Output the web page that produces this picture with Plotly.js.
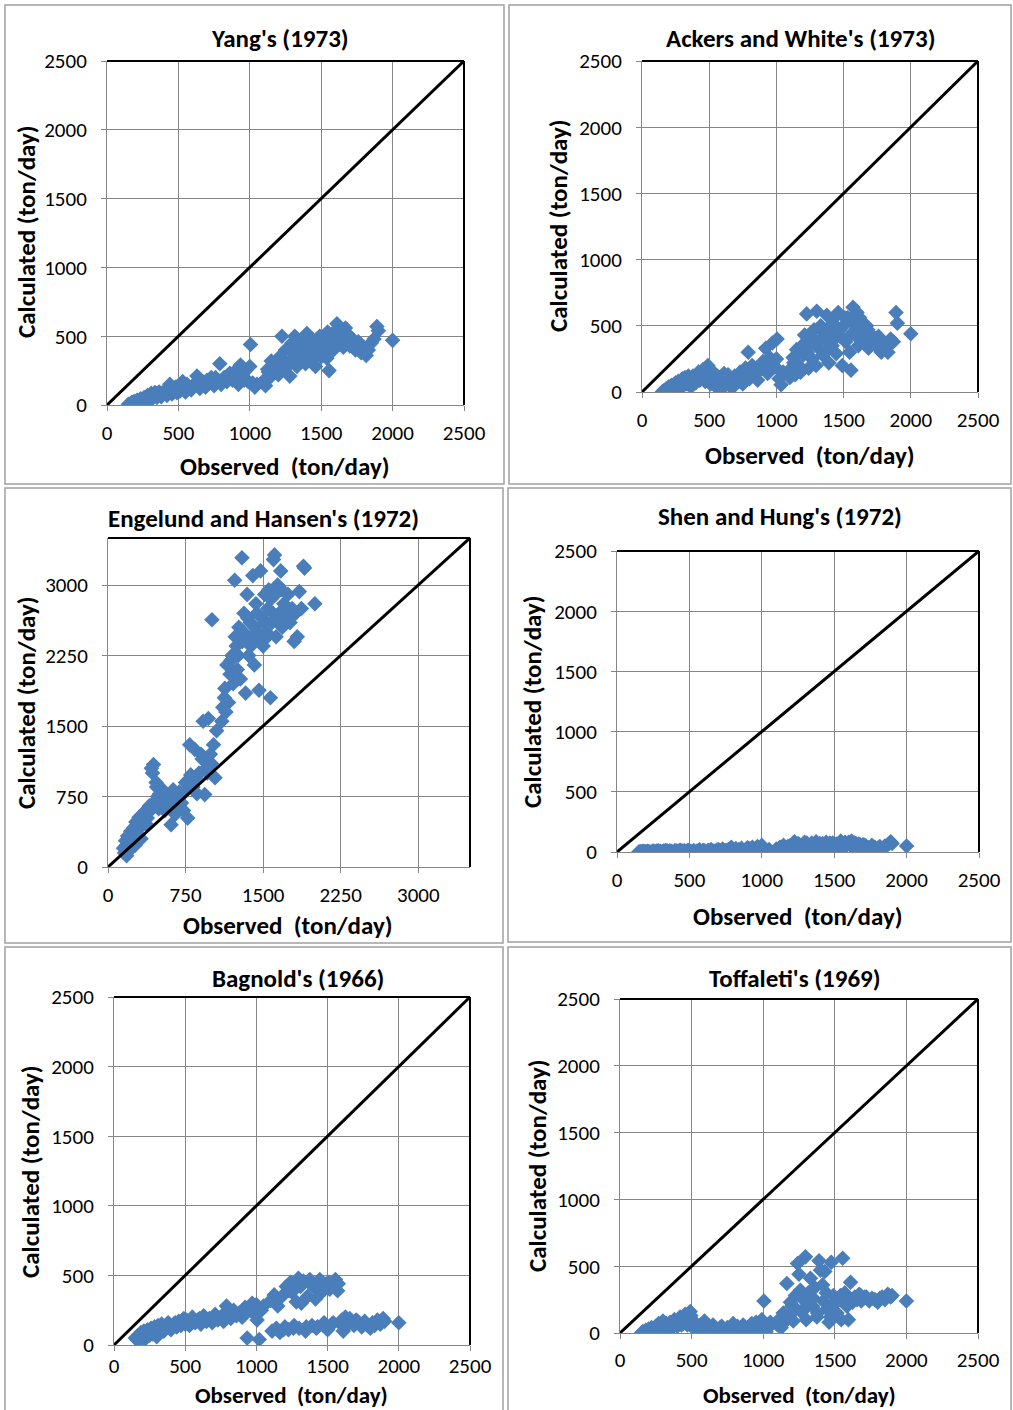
<!DOCTYPE html>
<html>
<head>
<meta charset="utf-8">
<script src="https://cdn.plot.ly/plotly-3.0.1.min.js"></script>
<style>
html,body{margin:0;padding:0;background:#fff;}
#chart{width:1013px;height:1410px;}
</style>
</head>
<body>
<div id="chart"></div>
<script>
// Observed sediment load (ton/day), shared by all six formulas
const observed = [
  150,160,170,180,190,200,210,220,235,250,260,270,285,300,310,320,335,350,365,380,400,420,440,455,470,490,500,510,
  530,550,570,590,610,630,650,670,690,710,730,750,770,790,800,820,840,860,880,900,920,935,950,970,990,1000,1005,1020,1035,1050,
  1100,1110,1125,1140,1150,1165,1180,1200,1210,1225,1240,1250,1265,1280,1295,1300,1315,1330,1345,1360,1375,1390,1400,1415,1430,1445,1460,1475,1490,1500,1515,1530,1545,1555,1570,1585,1600,1610,1625,1640,1655,1670,1685,1700,
  1720,1740,1760,1780,1800,1815,1830,1850,1870,1890,1900,2000,
  175,195,215,245,275,295,325,345,375,410,430,465,480,495,
  560,600,640,700,760,850,910,960,
  1130,1190,1230,1260,1310,1350,1380,1420,1440,1470,1510,1540,1575,1595,1620,1650,1680,1710
];

const yangCalc = [
  5,0,15,5,25,10,35,15,45,25,55,30,70,40,85,50,90,55,95,60,100,70,150,80,120,90,140,100,
  170,95,130,110,150,210,120,170,130,160,200,140,180,300,150,200,170,230,180,210,150,290,200,250,170,280,440,160,130,150,
  180,140,260,200,320,230,280,220,350,500,260,400,300,210,450,340,500,280,420,360,480,300,520,390,330,460,280,420,500,350,440,380,530,250,460,400,540,590,440,500,420,560,470,430,
  480,400,460,380,420,360,400,450,480,570,540,470,
  20,8,30,40,55,60,70,80,85,90,110,100,130,110,
  150,130,160,180,200,220,260,180,
  240,300,330,280,380,320,420,450,380,480,470,340,420,500,560,480,520,450
];

const ackersCalc = [
  0,10,5,25,10,40,15,50,20,70,30,80,40,100,50,110,60,90,40,120,70,150,100,170,80,200,120,60,
  150,40,110,20,140,60,100,30,120,80,150,60,180,300,100,200,130,90,170,230,330,140,260,370,190,250,400,100,55,150,
  110,180,260,130,320,200,150,280,430,590,180,360,250,470,200,610,330,500,280,400,580,220,470,350,560,290,600,420,200,500,380,560,300,165,640,430,600,350,520,460,380,500,330,440,
  400,350,420,300,370,330,300,400,380,600,520,440,
  15,30,20,45,60,55,80,120,100,130,90,160,180,140,
  120,90,130,100,120,160,200,230,
  220,350,300,420,380,450,320,520,410,470,560,420,520,480,560,420,470,380
];

const engelundCalc = [
  200,150,280,120,330,250,180,380,300,420,230,480,350,530,420,300,560,470,600,520,650,1050,1090,700,850,620,780,700,
  820,600,700,750,450,820,560,700,800,680,600,900,520,1300,980,850,1250,780,1000,1200,1550,770,1050,1580,1200,1100,2630,1300,950,1450,
  1550,1700,1800,1650,2150,1750,2050,2250,1950,3050,2350,2100,2550,2000,3290,2400,2700,1850,2900,2250,2600,2450,3100,2150,2800,2500,1880,3150,2650,2350,2900,2500,2750,2950,1800,2600,3270,3320,2450,3000,2700,3150,2550,2800,
  2650,2900,2600,2750,2400,2700,2450,2930,2750,3200,3180,2800,
  230,180,320,270,400,320,480,550,450,600,1000,900,750,680,
  750,680,620,750,820,950,1150,1000,
  1900,2200,2450,2250,2500,2650,2350,2550,2700,2400,2600,2450,2850,2700,2900,2600,2950,2700
];

const shenCalc = [
  0,3,0,5,2,0,6,3,0,8,4,2,10,5,0,8,12,4,9,2,12,6,15,8,3,14,10,5,
  12,6,18,10,4,15,20,8,16,12,25,10,20,40,15,28,18,30,12,35,22,40,15,45,25,55,30,10,5,20,
  25,15,40,20,55,30,45,25,60,85,40,70,30,55,80,45,65,35,75,50,85,40,70,55,30,80,60,45,75,35,65,50,90,25,70,55,80,60,45,75,55,65,40,60,
  50,35,55,40,30,45,25,50,60,85,70,50,
  4,2,0,5,7,3,6,10,5,8,12,10,6,12,
  10,14,8,20,15,20,30,25,
  35,50,45,60,75,60,55,70,65,75,55,70,80,70,90,70,60,55
];

const bagnoldCalc = [
  50,40,70,30,90,60,100,45,110,70,120,80,130,60,140,90,150,100,120,160,110,150,130,170,140,190,150,180,
  140,200,160,180,150,210,170,190,160,220,180,200,170,280,230,190,250,210,230,200,270,50,260,300,220,290,180,40,250,280,
  320,100,360,120,280,90,350,130,420,110,450,380,140,310,480,120,300,460,100,350,470,140,420,330,130,470,380,160,440,110,400,150,430,470,390,160,180,100,200,150,190,170,140,180,
  160,130,170,140,120,160,140,180,150,190,170,160,
  60,75,80,90,100,110,115,130,140,135,160,155,170,165,
  180,190,180,200,210,230,240,250,
  330,110,390,120,420,130,440,120,420,140,450,160,440,150,170,180,160,170
];

const toffaletiCalc = [
  0,10,5,20,0,30,10,40,15,50,20,70,30,90,40,60,20,80,40,100,50,120,70,140,60,160,100,40,
  70,20,50,90,30,10,60,30,20,50,10,40,30,70,20,50,30,60,20,40,70,30,80,50,100,60,240,10,40,80,
  60,100,40,150,80,370,120,200,90,280,520,440,160,250,570,100,300,410,200,340,120,540,470,360,460,180,80,530,280,220,150,250,100,560,300,200,260,380,230,270,250,290,240,260,
  270,240,260,250,230,260,270,250,290,270,280,240,
  10,15,25,30,40,50,70,50,70,90,60,110,90,130,
  60,40,30,40,20,40,60,40,
  90,230,180,320,200,260,150,240,300,120,230,280,250,100,240,260,280,270
];

const panelTitles = ["Yang's (1973)", "Ackers and White's (1973)", "Engelund and Hansen's (1972)",
                     "Shen and Hung's (1972)", "Bagnold's (1966)", "Toffaleti's (1969)"];
const calcSeries = [yangCalc, ackersCalc, engelundCalc, shenCalc, bagnoldCalc, toffaletiCalc];
const axisMax = [2500, 2500, 3500, 2500, 2500, 2500];
const tickValues = [
  [0,500,1000,1500,2000,2500],
  [0,500,1000,1500,2000,2500],
  [0,750,1500,2250,3000],
  [0,500,1000,1500,2000,2500],
  [0,500,1000,1500,2000,2500],
  [0,500,1000,1500,2000,2500]
];
const xTitle = "Observed  (ton/day)";
const yTitle = "Calculated (ton/day)";

// ---- layout geometry (pixels) ----
const W = 1013, H = 1410;
const plotBoxes = [ // [left, right, top, bottom]
  [107, 464, 61, 405],
  [642, 978, 61, 392],
  [108, 470, 538, 867],
  [617, 979, 551, 852],
  [114, 470, 997, 1345],
  [620, 978, 999, 1333]
];
const frames = [ // [left, right, top, bottom]
  [5, 504, 5, 484],
  [509, 1011, 5, 484],
  [5, 503, 488, 943],
  [508, 1011, 488, 942],
  [5, 503, 947, 1415],
  [508, 1011, 947, 1415]
];
const titlePos = [[280,38],[800,38],[263,518],[780,516],[298,978],[795,978]];
const xTitlePos = [[285,467],[810,455],[288,926],[798,916],[291,1396],[799,1395]];
const yTitlePos = [[26,232],[558,226],[26,703],[533,702],[30,1172],[537,1166]];
const xTickStandoff = [4, 4, 4, 4, -3, 3];

const FONT = 'Carlito, Lato, "Open Sans", sans-serif';
const px = v => v / W;
const py = v => 1 - v / H;

const data = [];
const layout = {
  width: W, height: H,
  margin: {l:0, r:0, t:0, b:0},
  paper_bgcolor: '#ffffff', plot_bgcolor: '#ffffff',
  showlegend: false,
  font: {family: FONT, color: '#000'},
  shapes: [], annotations: []
};

for (let i = 0; i < 6; i++) {
  const n = i + 1;
  const xa = n === 1 ? 'x' : 'x' + n;
  const ya = n === 1 ? 'y' : 'y' + n;
  const b = plotBoxes[i];
  const axCommon = {
    range: [0, axisMax[i]], tickvals: tickValues[i], ticktext: tickValues[i].map(String),
    showgrid: true, gridcolor: '#868686', gridwidth: 1,
    showline: true, linecolor: '#868686', linewidth: 1,
    ticks: 'outside', ticklen: 5, tickcolor: '#868686', tickwidth: 1,
    zeroline: false, fixedrange: true,
    tickfont: {family: FONT, size: 21, color: '#000'}
  };
  layout[n === 1 ? 'xaxis' : 'xaxis' + n] = Object.assign({}, axCommon, {
    domain: [px(b[0]), px(b[1])], anchor: ya, ticklabelstandoff: xTickStandoff[i]
  });
  layout[n === 1 ? 'yaxis' : 'yaxis' + n] = Object.assign({}, axCommon, {
    domain: [py(b[3]), py(b[2])], anchor: xa, ticklabelstandoff: 10
  });

  data.push({
    type: 'scatter', mode: 'markers', xaxis: xa, yaxis: ya,
    x: observed, y: calcSeries[i],
    marker: {symbol: 'diamond', size: 12, color: '#4a7ebb', line: {width: 0}},
    hoverinfo: 'skip'
  });
  data.push({
    type: 'scatter', mode: 'lines', xaxis: xa, yaxis: ya,
    x: [0, axisMax[i]], y: [0, axisMax[i]],
    line: {color: '#000', width: 3}, hoverinfo: 'skip'
  });

  // black top and right borders of plot area
  layout.shapes.push({type:'line', xref: xa + ' domain', yref: ya + ' domain', x0:0, x1:1, y0:1, y1:1, line:{color:'#000', width:2}});
  layout.shapes.push({type:'line', xref: xa + ' domain', yref: ya + ' domain', x0:1, x1:1, y0:0, y1:1, line:{color:'#000', width:2}});

  // panel frame
  const f = frames[i];
  layout.shapes.push({type:'rect', xref:'paper', yref:'paper', x0:px(f[0]), x1:px(f[1]), y0:py(f[3]), y1:py(f[2]),
    line:{color:'#a0a0a0', width:1.5}, fillcolor:'rgba(0,0,0,0)'});

  layout.annotations.push({
    text: panelTitles[i], xref:'paper', yref:'paper', x: px(titlePos[i][0]), y: py(titlePos[i][1]),
    xanchor:'center', yanchor:'middle', showarrow:false,
    font:{family: FONT, size: 25, color:'#000', weight: 'bold'}
  });
  const bottomRow = i >= 4;
  layout.annotations.push({
    text: xTitle, xref:'paper', yref:'paper', x: px(xTitlePos[i][0]),
    y: bottomRow ? 0 : py(xTitlePos[i][1]),
    xanchor:'center', yanchor: bottomRow ? 'bottom' : 'middle', showarrow:false, borderpad: 0,
    font:{family: FONT, size: bottomRow ? 23 : 25, color:'#000', weight: 'bold'}
  });
  layout.annotations.push({
    text: yTitle, xref:'paper', yref:'paper', x: px(yTitlePos[i][0]), y: py(yTitlePos[i][1]),
    xanchor:'center', yanchor:'middle', showarrow:false, textangle: -90,
    font:{family: FONT, size: 25, color:'#000', weight: 'bold'}
  });
}

Plotly.newPlot('chart', data, layout, {staticPlot: true, displayModeBar: false});
</script>
</body>
</html>
